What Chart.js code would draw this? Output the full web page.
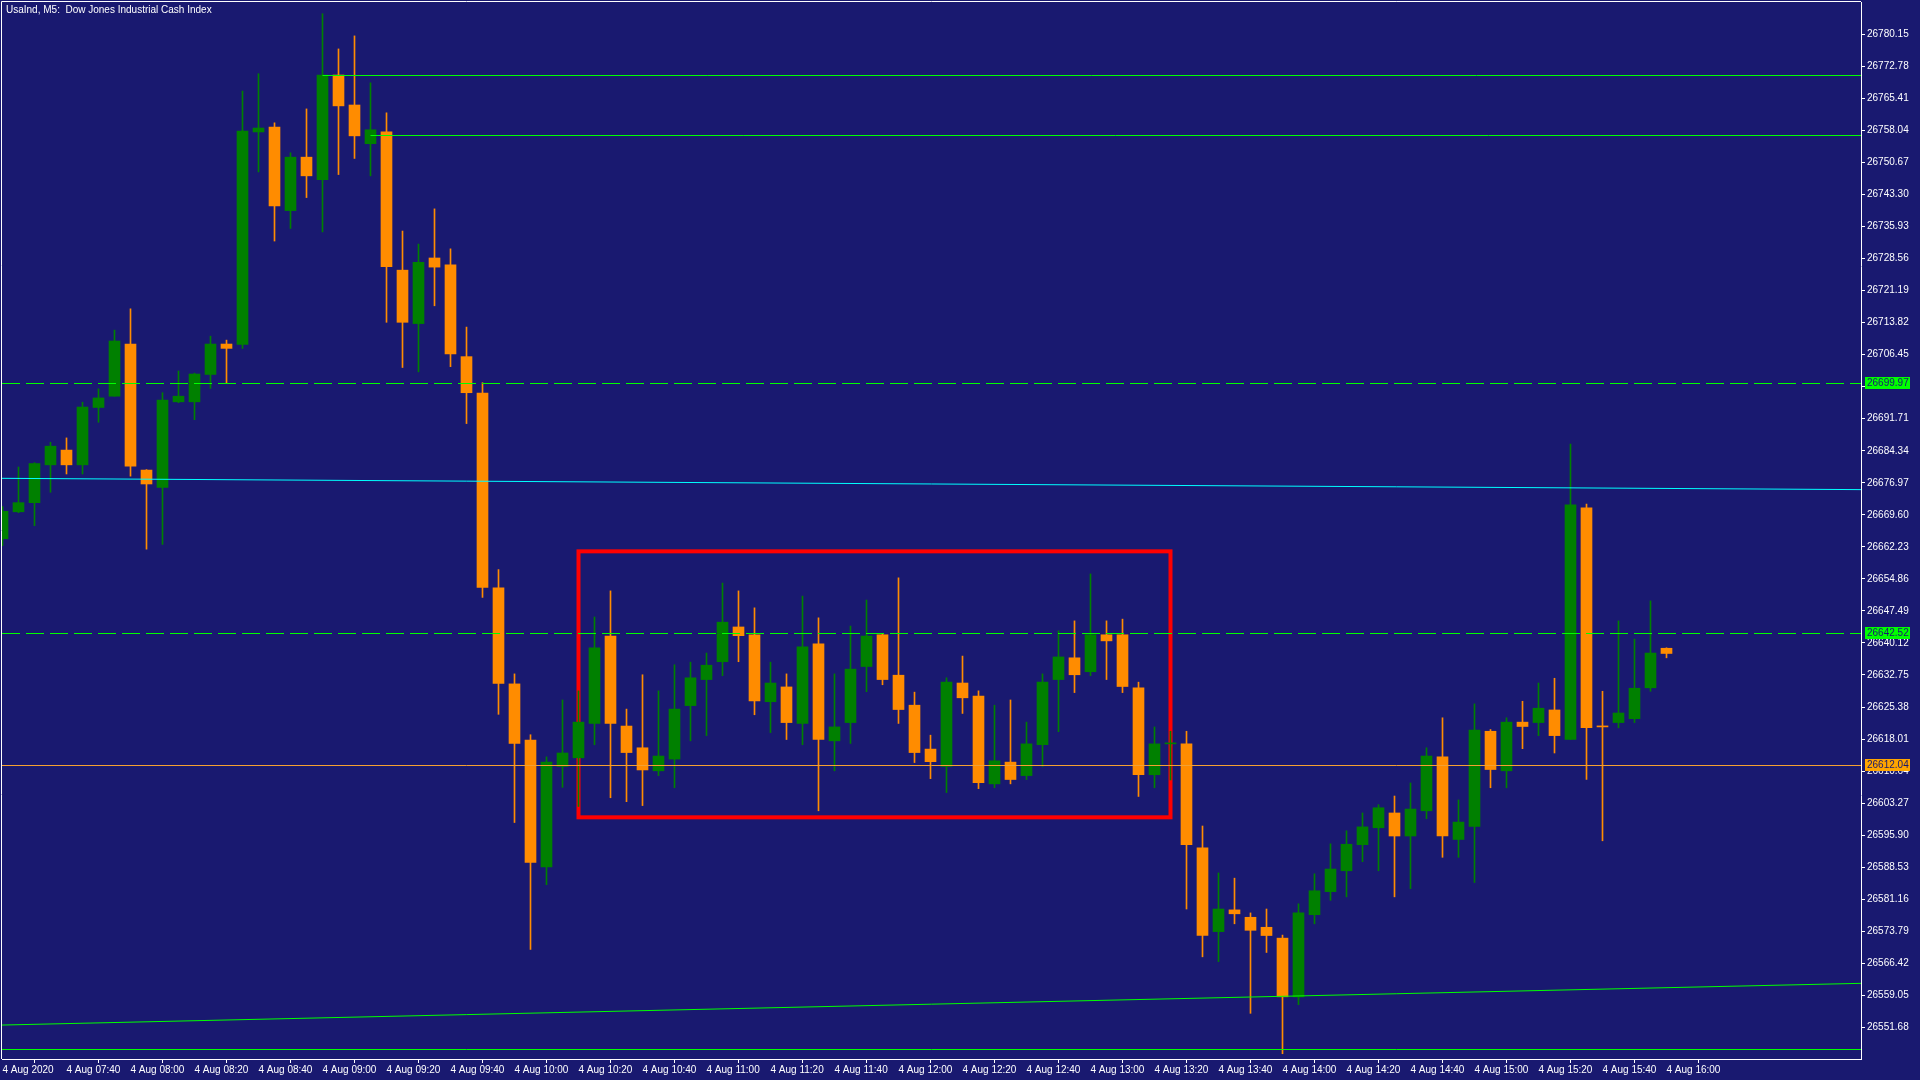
<!DOCTYPE html>
<html>
<head>
<meta charset="utf-8">
<title>UsaInd M5</title>
<script src="https://cdn.jsdelivr.net/npm/chart.js@4.4.1/dist/chart.umd.min.js"></script>
<style>
  html, body { margin: 0; padding: 0; background: #191970; }
  canvas { display: block; }
</style>
</head>
<body>
<canvas id="chart" width="1920" height="1080"></canvas>
<script>
// UsaInd M5 candles, 4 Aug 2020 07:20 .. 16:00

const times = [
  "07:20","07:25","07:30","07:35","07:40","07:45","07:50","07:55",
  "08:00","08:05","08:10","08:15","08:20","08:25","08:30","08:35","08:40","08:45","08:50","08:55",
  "09:00","09:05","09:10","09:15","09:20","09:25","09:30","09:35","09:40","09:45","09:50","09:55",
  "10:00","10:05","10:10","10:15","10:20","10:25","10:30","10:35","10:40","10:45","10:50","10:55",
  "11:00","11:05","11:10","11:15","11:20","11:25","11:30","11:35","11:40","11:45","11:50","11:55",
  "12:00","12:05","12:10","12:15","12:20","12:25","12:30","12:35","12:40","12:45","12:50","12:55",
  "13:00","13:05","13:10","13:15","13:20","13:25","13:30","13:35","13:40","13:45","13:50","13:55",
  "14:00","14:05","14:10","14:15","14:20","14:25","14:30","14:35","14:40","14:45","14:50","14:55",
  "15:00","15:05","15:10","15:15","15:20","15:25","15:30","15:35","15:40","15:45","15:50","15:55",
  "16:00"
];

const opens = [
  26664.1, 26670.3, 26672.4, 26681.1, 26684.5, 26681.1, 26694.3, 26696.9,
  26708.9, 26679.9, 26675.9, 26695.6, 26695.6, 26701.9, 26708.9, 26708.8, 26757.7, 26758.8, 26739.6, 26751.9,
  26746.7, 26770.8, 26763.9, 26755.0, 26757.7, 26725.9, 26713.6, 26728.7, 26727.1, 26706.0, 26697.6, 26652.8,
  26630.7, 26617.8, 26588.6, 26611.7, 26613.7, 26621.6, 26641.7, 26621.0, 26616.0, 26610.7, 26613.4, 26625.7,
  26631.7, 26635.8, 26643.8, 26642.0, 26626.6, 26630.0, 26621.6, 26639.9, 26617.6, 26621.8, 26634.7, 26642.0,
  26632.7, 26625.8, 26615.7, 26611.7, 26630.9, 26627.9, 26607.7, 26612.7, 26609.6, 26616.7, 26631.7, 26636.7,
  26633.5, 26642.0, 26642.0, 26629.8, 26609.8, 26616.9, 26616.9, 26593.0, 26573.7, 26578.7, 26577.0, 26574.7,
  26572.2, 26558.7, 26577.6, 26582.9, 26587.7, 26593.7, 26597.6, 26601.0, 26595.7, 26601.5, 26613.9, 26594.9,
  26597.9, 26619.8, 26610.7, 26621.9, 26621.8, 26624.7, 26617.9, 26671.2, 26621.0, 26621.8, 26622.7, 26629.8,
  26638.9
];

const highs = [
  26671.5, 26680.6, 26681.6, 26686.3, 26687.3, 26695.5, 26698.6, 26712.1,
  26717.0, 26680.0, 26697.7, 26702.7, 26702.2, 26710.7, 26709.8, 26767.1, 26771.1, 26759.8, 26752.9, 26763.0,
  26784.9, 26776.8, 26779.8, 26769.0, 26762.1, 26734.9, 26731.9, 26740.0, 26730.8, 26712.8, 26700.0, 26657.0,
  26633.0, 26619.0, 26613.9, 26627.0, 26629.1, 26646.1, 26652.1, 26624.9, 26632.8, 26629.1, 26635.1, 26635.7,
  26637.8, 26653.9, 26652.1, 26648.2, 26635.7, 26633.0, 26650.9, 26645.9, 26633.0, 26644.0, 26650.0, 26642.2,
  26655.1, 26628.8, 26618.9, 26632.1, 26637.1, 26629.1, 26625.8, 26627.0, 26621.9, 26633.0, 26642.9, 26645.2,
  26656.0, 26645.2, 26645.6, 26631.1, 26620.8, 26619.8, 26619.8, 26598.0, 26587.2, 26586.0, 26578.0, 26578.9,
  26572.9, 26580.1, 26587.0, 26593.9, 26596.9, 26601.0, 26602.9, 26604.9, 26607.9, 26616.0, 26622.9, 26604.0,
  26626.1, 26620.2, 26622.9, 26626.7, 26630.9, 26632.0, 26685.9, 26672.1, 26629.0, 26645.2, 26641.0, 26649.8,
  26639.0
];

const lows = [
  26662.5, 26670.1, 26667.1, 26674.8, 26679.0, 26679.0, 26690.9, 26696.9,
  26678.5, 26661.7, 26662.8, 26695.4, 26691.5, 26698.7, 26699.8, 26707.9, 26748.5, 26732.6, 26735.5, 26742.6,
  26734.7, 26747.9, 26751.6, 26747.6, 26713.9, 26703.5, 26702.5, 26717.7, 26703.7, 26690.6, 26650.6, 26623.7,
  26598.8, 26569.6, 26584.5, 26606.9, 26602.5, 26616.7, 26604.5, 26603.6, 26602.7, 26609.6, 26606.8, 26617.6,
  26618.8, 26632.6, 26635.8, 26623.6, 26619.5, 26617.9, 26616.7, 26601.5, 26610.7, 26617.0, 26628.9, 26630.5,
  26621.6, 26612.6, 26608.9, 26605.7, 26623.9, 26606.6, 26606.8, 26607.7, 26608.7, 26611.7, 26619.7, 26628.7,
  26632.6, 26631.7, 26628.7, 26604.8, 26606.8, 26608.6, 26578.9, 26567.9, 26566.8, 26575.5, 26554.9, 26568.9,
  26545.6, 26556.9, 26575.5, 26580.9, 26581.7, 26589.8, 26587.7, 26581.7, 26583.6, 26599.7, 26590.8, 26590.8,
  26585.0, 26606.8, 26606.8, 26615.8, 26618.8, 26614.8, 26617.9, 26608.7, 26594.6, 26620.6, 26621.8, 26629.0,
  26636.7
];

const closes = [
  26670.4, 26672.4, 26681.4, 26685.4, 26681.1, 26694.4, 26696.5, 26709.6,
  26680.8, 26676.7, 26696.0, 26696.9, 26702.0, 26708.9, 26707.9, 26757.9, 26758.6, 26740.7, 26751.9, 26747.6,
  26770.8, 26763.7, 26756.8, 26758.2, 26726.7, 26713.9, 26727.7, 26726.6, 26706.6, 26697.7, 26652.9, 26630.8,
  26617.0, 26589.6, 26612.7, 26614.8, 26621.9, 26639.0, 26621.6, 26614.9, 26610.9, 26614.1, 26624.9, 26632.1,
  26635.0, 26644.9, 26641.8, 26626.8, 26630.9, 26621.8, 26639.2, 26617.9, 26620.8, 26634.1, 26641.7, 26631.7,
  26624.8, 26614.9, 26612.8, 26631.1, 26627.5, 26608.0, 26613.0, 26608.7, 26616.9, 26631.1, 26636.9, 26632.8,
  26642.0, 26640.6, 26630.1, 26609.8, 26616.9, 26617.1, 26593.7, 26572.8, 26578.9, 26577.8, 26574.0, 26572.8,
  26558.7, 26578.0, 26583.1, 26588.1, 26593.8, 26597.8, 26602.2, 26595.7, 26601.9, 26614.1, 26595.7, 26598.9,
  26620.1, 26611.0, 26621.9, 26620.9, 26625.1, 26618.8, 26671.9, 26620.6, 26620.8, 26624.0, 26629.7, 26637.8,
  26637.7
];

const xTickLabels = [
  "4 Aug 2020", "4 Aug 07:40", "4 Aug 08:00", "4 Aug 08:20", "4 Aug 08:40", "4 Aug 09:00",
  "4 Aug 09:20", "4 Aug 09:40", "4 Aug 10:00", "4 Aug 10:20", "4 Aug 10:40", "4 Aug 11:00",
  "4 Aug 11:20", "4 Aug 11:40", "4 Aug 12:00", "4 Aug 12:20", "4 Aug 12:40", "4 Aug 13:00",
  "4 Aug 13:20", "4 Aug 13:40", "4 Aug 14:00", "4 Aug 14:20", "4 Aug 14:40", "4 Aug 15:00",
  "4 Aug 15:20", "4 Aug 15:40", "4 Aug 16:00"
];

const yTickValues = [
  26551.68, 26559.05, 26566.42, 26573.79, 26581.16, 26588.53, 26595.90, 26603.27,
  26610.64, 26618.01, 26625.38, 26632.75, 26640.12, 26647.49, 26654.86, 26662.23,
  26669.60, 26676.97, 26684.34, 26691.71, 26699.08, 26706.45, 26713.82, 26721.19,
  26728.56, 26735.93, 26743.30, 26750.67, 26758.04, 26765.41, 26772.78, 26780.15
];

// chart objects (prices / bar indexes)
const dashedLevels = [26699.97, 26642.52];
const bidLevel = 26612.04;
const highLevels = [26770.74, 26756.93];
const highLevelStart = [20, 23];
const bottomLevel = 26546.6;
const cyanTrend = [26678.0, 26675.4];
const greenTrend = [26552.2, 26561.8];
const boxBars = [36, 73];
const boxPrices = [26600.0, 26661.2];

const BG = "#191970";
const BULL = "#008000";
const BEAR = "#ff8c00";
const LIME = "#00ff00";
const FONT = "'Liberation Sans', Arial, sans-serif";

const idx = times.map((t, i) => i);
const colors = idx.map(i => (closes[i] >= opens[i] ? BULL : BEAR));
const xTicks = xTickLabels.map((l, k) => k * 4);
const xMin = -1 / 32;
const xMax = xMin + 1859 / 16;

const overlay = {
  id: "overlay",
  beforeDraw(chart) {
    const ctx = chart.ctx;
    ctx.save();
    ctx.fillStyle = BG;
    ctx.fillRect(0, 0, chart.width, chart.height);
    ctx.restore();
  },
  beforeDatasetsDraw(chart) {
    const { ctx, scales: { x, y } } = chart;
    const x1 = x.getPixelForValue(boxBars[0]);
    const x2 = x.getPixelForValue(boxBars[1]);
    const y1 = y.getPixelForValue(boxPrices[1]);
    const y2 = y.getPixelForValue(boxPrices[0]);
    ctx.save();
    ctx.strokeStyle = "#ff0000";
    ctx.lineWidth = 4;
    ctx.strokeRect(x1, y1, x2 - x1, y2 - y1);
    ctx.restore();
  },
  afterDatasetsDraw(chart) {
    const { ctx, chartArea: a, scales: { x, y } } = chart;
    ctx.save();
    ctx.beginPath();
    ctx.rect(a.left, a.top, a.right - a.left, a.bottom - a.top);
    ctx.clip();
    ctx.lineWidth = 1;

    const hline = (price, color, from, dash) => {
      const py = Math.round(y.getPixelForValue(price)) + 0.5;
      ctx.strokeStyle = color;
      ctx.setLineDash(dash || []);
      ctx.beginPath();
      ctx.moveTo(from, py);
      ctx.lineTo(a.right, py);
      ctx.stroke();
    };
    dashedLevels.forEach(p => hline(p, LIME, a.left, [18, 6]));
    hline(bidLevel, "#f5a030", a.left);
    highLevels.forEach((p, k) => hline(p, LIME, x.getPixelForValue(highLevelStart[k])));
    hline(bottomLevel, LIME, a.left);

    ctx.setLineDash([]);
    const trend = (vals, color) => {
      ctx.strokeStyle = color;
      ctx.beginPath();
      ctx.moveTo(x.getPixelForValue(xMin), y.getPixelForValue(vals[0]));
      ctx.lineTo(x.getPixelForValue(xMax), y.getPixelForValue(vals[1]));
      ctx.stroke();
    };
    trend(cyanTrend, "#00ffff");
    trend(greenTrend, LIME);
    ctx.restore();
  },
  afterDraw(chart) {
    const { ctx, chartArea: a, scales: { y } } = chart;
    ctx.save();
    // frame top / left
    ctx.strokeStyle = "#ffffff";
    ctx.lineWidth = 1;
    ctx.beginPath();
    ctx.moveTo(a.left - 0.5, a.bottom);
    ctx.lineTo(a.left - 0.5, a.top - 0.5);
    ctx.lineTo(a.right, a.top - 0.5);
    ctx.stroke();

    // title
    ctx.fillStyle = "#ffffff";
    ctx.font = "10px " + FONT;
    ctx.textBaseline = "middle";
    ctx.textAlign = "left";
    ctx.fillText("UsaInd, M5:  Dow Jones Industrial Cash Index", 6, 10);

    // price labels on the axis
    const tag = (price, color) => {
      const py = Math.round(y.getPixelForValue(price));
      ctx.fillStyle = color;
      ctx.fillRect(a.right + 4, py - 6, 45, 12);
      ctx.fillStyle = BG;
      ctx.fillText(price.toFixed(2), a.right + 6, py + 0.5);
    };
    dashedLevels.forEach(p => tag(p, LIME));
    tag(bidLevel, "#ffa500");
    ctx.restore();
  }
};

Chart.defaults.font.family = FONT;
Chart.defaults.font.size = 10;
Chart.defaults.color = "#ffffff";

new Chart(document.getElementById("chart").getContext("2d"), {
  type: "bar",
  data: {
    datasets: [
      {
        label: "body",
        data: idx.map(i => ({ x: i, y: [opens[i], closes[i]] })),
        backgroundColor: colors,
        borderWidth: 0,
        barThickness: 11,
        minBarLength: 1,
        grouped: false
      },
      {
        label: "wick",
        data: idx.map(i => ({ x: i, y: [lows[i], highs[i]] })),
        backgroundColor: colors,
        borderWidth: 0,
        barThickness: 1,
        grouped: false
      }
    ]
  },
  options: {
    responsive: false,
    devicePixelRatio: 1,
    animation: false,
    layout: { padding: { top: 2, left: 2, right: 0, bottom: 0 } },
    plugins: { legend: { display: false }, tooltip: { enabled: false } },
    scales: {
      x: {
        type: "linear",
        min: xMin,
        max: xMax,
        offset: false,
        grid: { display: true, drawOnChartArea: false, drawTicks: true, tickLength: 4, color: "#ffffff" },
        border: { display: true, color: "#ffffff" },
        afterBuildTicks: s => { s.ticks = xTicks.map(v => ({ value: v })); },
        afterFit: s => { s.height = 21; s.paddingLeft = 0; s.paddingRight = 0; },
        ticks: {
          autoSkip: false,
          maxRotation: 0,
          align: "start",
          padding: 1,
          color: "#ffffff",
          callback: (v, k) => xTickLabels[k]
        }
      },
      y: {
        position: "right",
        min: 26544.39,
        max: 26787.6,
        grid: { display: true, drawOnChartArea: false, drawTicks: true, tickLength: 4, color: "#ffffff" },
        border: { display: true, color: "#ffffff" },
        afterBuildTicks: s => { s.ticks = yTickValues.map(v => ({ value: v })); },
        afterFit: s => { s.width = 59; s.paddingTop = 0; s.paddingBottom = 0; },
        ticks: {
          autoSkip: false,
          padding: 2,
          color: "#ffffff",
          callback: v => v.toFixed(2)
        }
      }
    }
  },
  plugins: [overlay]
});
</script>
</body>
</html>
